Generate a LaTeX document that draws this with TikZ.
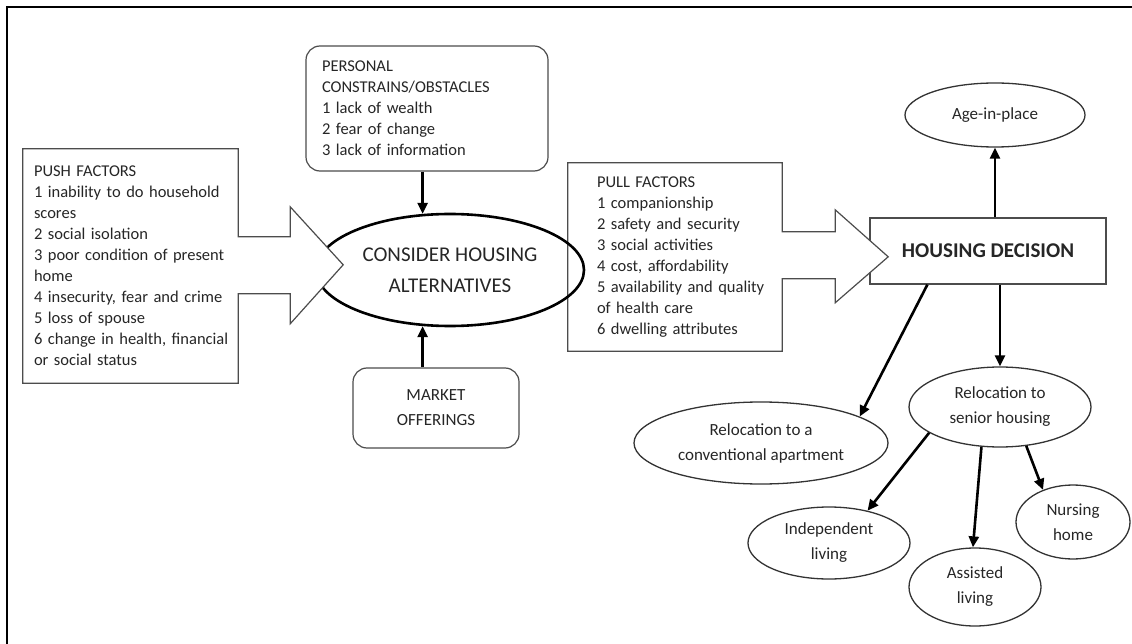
\documentclass[tikz,border=0pt]{standalone}
\usepackage{fontspec}
\setmainfont{Carlito}
\usetikzlibrary{arrows.meta,shapes.geometric}
\pgfdeclarelayer{shapes}
\pgfsetlayers{shapes,main}
\begin{document}
\begin{tikzpicture}[x=1pt,y=-1pt,
  every node/.style={text=black!85},
  body/.style={font=\fontsize{16.5}{21}\selectfont},
  outline/.style={draw=black!70, line width=1.2pt},
  listbox/.style={body, align=left, inner ysep=0pt},
  roundbox/.style={outline, rounded corners=14pt, fill=white},
  oval/.style={ellipse, draw=black!80, line width=1.3pt, inner sep=0pt,
    align=center, font=\fontsize{17}{25}\selectfont},
  link/.style={line width=2.6pt, -{Triangle[length=11pt,width=10pt]}},
]
\useasboundingbox (0,0) rectangle (1132,644);

% page frame (left and top rules)
\draw[line width=2.6pt] (7,644) -- (7,7) -- (1132,7);

% text of the two factor callouts
\node[listbox, text width=205pt, inner xsep=5pt, minimum height=234pt] (push) at (130.5,266)
  {\parindent=0pt\leftskip=6pt\hyphenpenalty=10000 PUSH FACTORS\\
   1 inability to do household\\
   scores\\
   2 social isolation\\
   3 poor condition of present\\
   home\\
   4 insecurity, fear and crime\\
   5 loss of spouse\\
   6 change in health, financial\\
   or social status\par};
\node[listbox, text width=204pt, inner xsep=5pt, minimum height=188pt] (pull) at (675,257)
  {\parindent=0pt\leftskip=24pt\hyphenpenalty=10000 PULL FACTORS\\
   1 companionship\\
   2 safety and security\\
   3 social activities\\
   4 cost, affordability\\
   5 availability and quality\\
   of health care\\
   6 dwelling attributes\par};

\begin{pgfonlayer}{shapes}
  % decision box sits under the tip of the pull arrow
  \node[outline, fill=white, minimum width=236pt, minimum height=66pt, inner sep=0pt,
    font=\bfseries\fontsize{21}{25}\selectfont] (housing) at (988,251) {HOUSING DECISION};
  % pull factors callout arrow
  \draw[outline, fill=white] (pull.north west) -- (pull.north east) -- ++(0,69) -- ++(53,0)
    -- ++(0,-22) -- ++(53,47) coordinate (pulltip) -- ++(-53,46) -- ++(0,-24) -- ++(-53,0)
    -- (pull.south east) -- (pull.south west) -- cycle;
  % central ellipse
  \node[ellipse, draw=black, line width=2.6pt, minimum width=268pt, minimum height=112pt,
    inner sep=0pt, align=center, font=\fontsize{21}{31}\selectfont] (consider) at (450,270)
    {CONSIDER HOUSING\\ALTERNATIVES};
  % push factors callout arrow
  \draw[outline, fill=white] (push.north west) -- (push.north east) -- ++(0,88) -- ++(52,0)
    -- ++(0,-30) -- ++(53,58) coordinate (pushtip) -- ++(-53,59) -- ++(0,-30) -- ++(-52,0)
    -- (push.south east) -- (push.south west) -- cycle;
\end{pgfonlayer}

% constraints and market boxes
\node[roundbox, listbox, text width=210pt, inner xsep=16pt, minimum height=125pt] (personal) at (427,108.5)
  {\parindent=0pt PERSONAL\\
   CONSTRAINS/OBSTACLES\\
   1 lack of wealth\\
   2 fear of change\\
   3 lack of information\par};
\node[roundbox, align=center, font=\fontsize{17}{25}\selectfont, minimum width=166pt,
  minimum height=80pt, inner sep=0pt] (market) at (436,408) {MARKET\\OFFERINGS};

% outcomes
\node[oval, minimum width=180pt, minimum height=64pt] (age) at (995,115) {Age-in-place};
\node[oval, minimum width=182pt, minimum height=80pt] (senior) at (1000,407) {Relocation to\\senior housing};
\node[oval, minimum width=254pt, minimum height=82pt] (conv) at (761,443) {Relocation to a\\conventional apartment};
\node[oval, minimum width=162pt, minimum height=72pt] (indep) at (829,543) {Independent\\living};
\node[oval, minimum width=132pt, minimum height=78pt] (assist) at (975,587) {Assisted\\living};
\node[oval, minimum width=114pt, minimum height=74pt] (nursing) at (1073,522) {Nursing\\home};

% connectors
\draw[link] (personal.south -| consider.116) -- (consider.116);
\draw[link] (market.north -| consider.244) -- (consider.244);
\draw[link] (housing.north -| age.south) -- (age.south);
\draw[link] (housing.south -| senior.north) -- (senior.north);
\draw[link] ([xshift=58pt]housing.south west) -- (conv.15);
\draw[link] (senior.200) -- (indep.40);
\draw[link] (senior.245) -- (assist.93);
\draw[link] (senior.304) -- (nursing.133);
\end{tikzpicture}
\end{document}
